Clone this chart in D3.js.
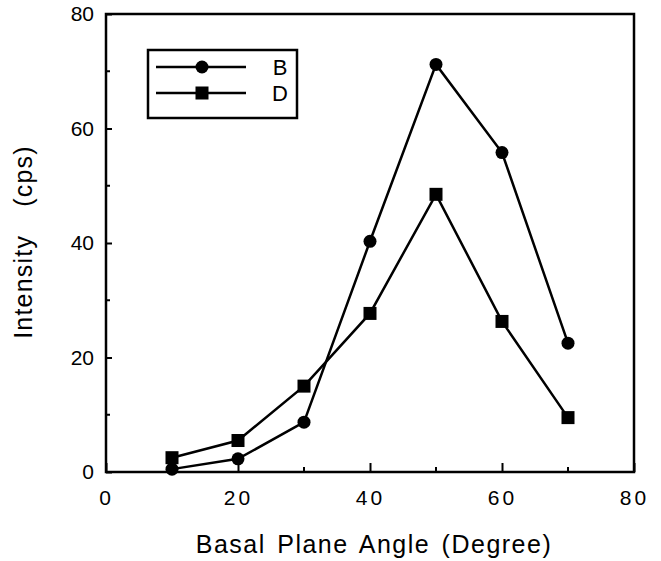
<!DOCTYPE html>
<meta charset="utf-8">
<style>
body { margin: 0; background: #fff; }
text { font-family: "Liberation Sans", Arial, sans-serif; fill: #000; }
.axis path, .axis line { stroke: #000; fill: none; }
</style>
<body>
<script src="https://cdn.jsdelivr.net/npm/d3@7"></script>
<script>

// values
var angles = [10, 20, 30, 40, 50, 60, 70];
var seriesB = [0.5, 2.3, 8.7, 40.3, 71.2, 55.8, 22.5];
var seriesD = [2.5, 5.5, 15.0, 27.7, 48.5, 26.3, 9.5];
var xTicks = [0, 20, 40, 60, 80];
var yTicks = [0, 20, 40, 60, 80];
var minorX = [10, 30, 50, 70];
var minorY = [10, 30, 50, 70];

var margin = {top: 14, right: 27, bottom: 89, left: 106},
  width = 661 - margin.left - margin.right,
  height = 561 - margin.top - margin.bottom;

var x = d3.scaleLinear().domain([0, 80]).range([0, width]),
  y = d3.scaleLinear().domain([0, 80]).range([height, 0]);

var svg = d3.select("body").append("svg")
  .attr("width", 661)
  .attr("height", 561);

var g = svg.append("g").attr("transform", "translate(" + margin.left + "," + margin.top + ")");

// frame
g.append("rect")
  .attr("width", width).attr("height", height)
  .attr("fill", "none").attr("stroke", "#000").attr("stroke-width", 2.5);

// x axis (ticks inward)
var xAxis = g.append("g").attr("class", "axis")
  .attr("transform", "translate(0," + height + ")")
  .call(d3.axisBottom(x).tickValues(xTicks).tickSizeInner(-9).tickSizeOuter(0).tickPadding(18));
xAxis.select(".domain").remove();
xAxis.selectAll("line").attr("stroke-width", 2);
xAxis.selectAll("text").attr("font-size", 21).attr("letter-spacing", 3).attr("dy", "0.72em");
g.append("g").selectAll("line").data(minorX).enter().append("line")
  .attr("x1", function(d) { return x(d); }).attr("x2", function(d) { return x(d); })
  .attr("y1", height).attr("y2", height - 5)
  .attr("stroke", "#000").attr("stroke-width", 2);

// y axis (ticks inward)
var yAxis = g.append("g").attr("class", "axis")
  .call(d3.axisLeft(y).tickValues(yTicks).tickSizeInner(-6).tickSizeOuter(0).tickPadding(12));
yAxis.select(".domain").remove();
yAxis.selectAll("line").attr("stroke-width", 2);
yAxis.selectAll("text").attr("font-size", 21);
g.append("g").selectAll("line").data(minorY).enter().append("line")
  .attr("y1", function(d) { return y(d); }).attr("y2", function(d) { return y(d); })
  .attr("x1", 0).attr("x2", 4)
  .attr("stroke", "#000").attr("stroke-width", 2);

// axis titles
svg.append("text")
  .attr("x", 374).attr("y", 553)
  .attr("text-anchor", "middle")
  .attr("font-size", 25).attr("letter-spacing", 1.5).attr("word-spacing", 3)
  .text("Basal Plane Angle (Degree)");

svg.append("text")
  .attr("transform", "translate(32,242) rotate(-90)")
  .attr("text-anchor", "middle")
  .attr("font-size", 25).attr("letter-spacing", 1.2).attr("word-spacing", 20)
  .text("Intensity (cps)");

var line = d3.line()
  .x(function(d, i) { return x(angles[i]); })
  .y(function(d) { return y(d); });

// series lines
[seriesB, seriesD].forEach(function(s) {
  g.append("path").datum(s)
    .attr("d", line)
    .attr("fill", "none").attr("stroke", "#000").attr("stroke-width", 2.5);
});

// markers
g.selectAll("circle.b").data(seriesB).enter().append("circle")
  .attr("class", "b")
  .attr("cx", function(d, i) { return x(angles[i]); })
  .attr("cy", function(d) { return y(d); })
  .attr("r", 6.5);

var sq = 13;
g.selectAll("rect.d").data(seriesD).enter().append("rect")
  .attr("class", "d")
  .attr("x", function(d, i) { return x(angles[i]) - sq / 2; })
  .attr("y", function(d) { return y(d) - sq / 2; })
  .attr("width", sq).attr("height", sq);

// legend
var legend = svg.append("g").attr("transform", "translate(148,50)");
legend.append("rect")
  .attr("width", 149).attr("height", 68)
  .attr("fill", "#fff").attr("stroke", "#000").attr("stroke-width", 2.5);
var legendItems = [{name: "B", shape: "circle"}, {name: "D", shape: "square"}];
legendItems.forEach(function(item, i) {
  var ly = 17 + i * 26;
  legend.append("line")
    .attr("x1", 8).attr("x2", 98).attr("y1", ly).attr("y2", ly)
    .attr("stroke", "#000").attr("stroke-width", 2.5);
  if (item.shape === "circle") {
    legend.append("circle").attr("cx", 54).attr("cy", ly).attr("r", 6.5);
  } else {
    legend.append("rect").attr("x", 54 - sq / 2).attr("y", ly - sq / 2).attr("width", sq).attr("height", sq);
  }
  legend.append("text")
    .attr("x", 132).attr("y", ly + 8)
    .attr("text-anchor", "middle")
    .attr("font-size", 22)
    .text(item.name);
});

</script>
